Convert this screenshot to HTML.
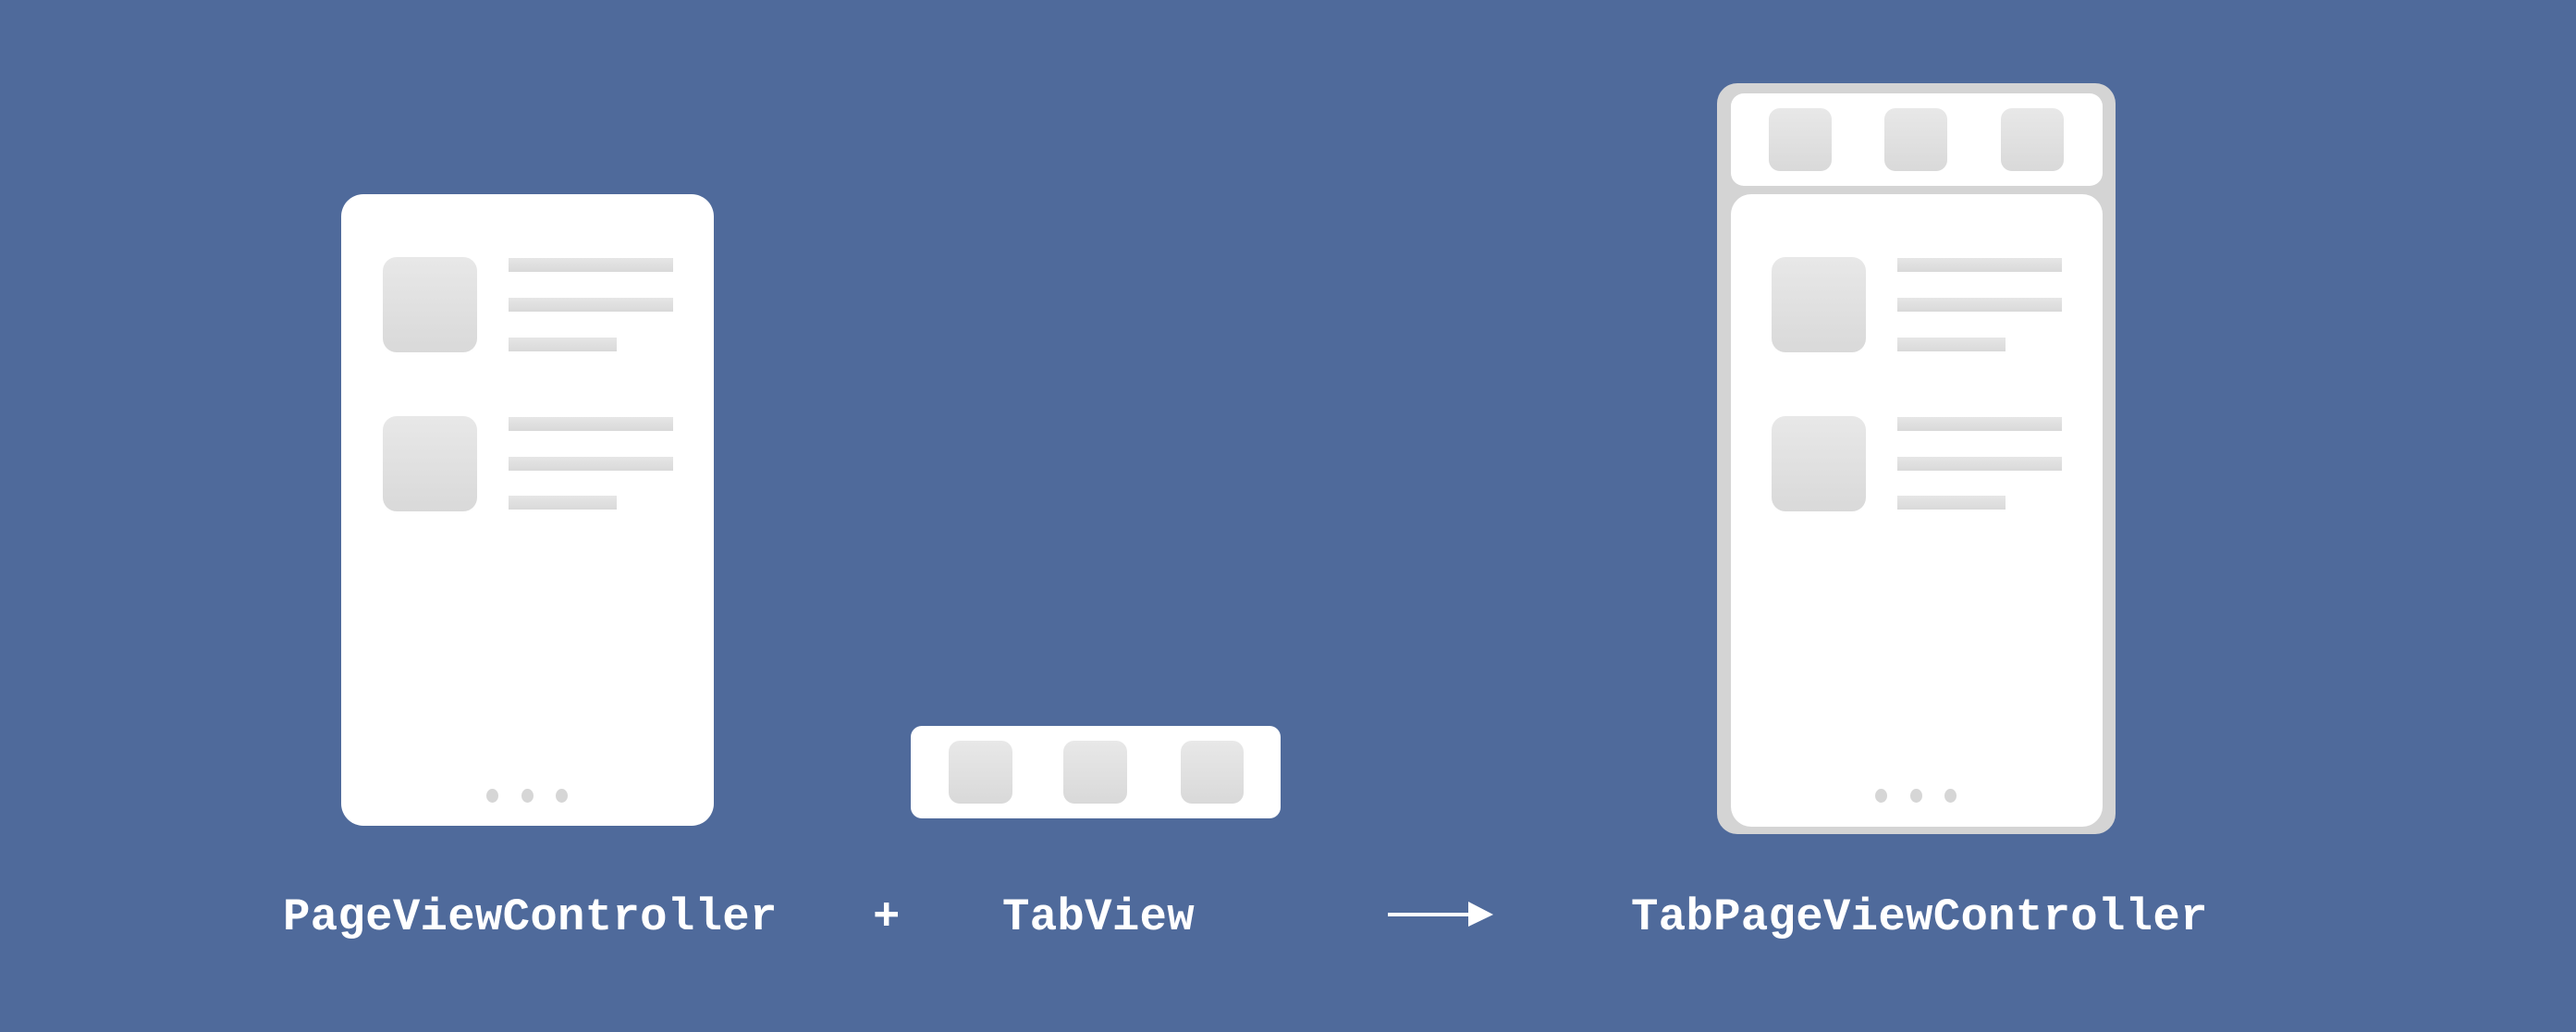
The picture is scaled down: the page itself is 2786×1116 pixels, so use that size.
<!DOCTYPE html>
<html><head><meta charset="utf-8"><style>
body{margin:0;width:2786px;height:1116px;background:#4f6a9b;position:relative;overflow:hidden;font-family:"Liberation Mono",monospace;}
div{position:absolute;box-sizing:border-box;}
.w{background:#fff;}
.sq{background:linear-gradient(#e8e8e8,#d9d9d9);border-radius:15px;}
.tsq{background:linear-gradient(#e8e8e8,#d9d9d9);border-radius:12px;}
.ln{background:linear-gradient(#e6e6e6,#d9d9d9);height:15px;}
.dot{width:13px;height:15px;border-radius:50%;background:#d6d6d6;}
.t{color:#fff;font-weight:bold;font-size:49px;letter-spacing:0.3px;line-height:1;white-space:nowrap;top:968px;}
</style></head><body>
<div class="w" style="left:369px;top:210px;width:403px;height:683px;border-radius:24px;"></div>
<div class="sq" style="left:414px;top:278px;width:102px;height:103px;"></div>
<div class="ln" style="left:550px;top:279px;width:178px;"></div>
<div class="ln" style="left:550px;top:322px;width:178px;"></div>
<div class="ln" style="left:550px;top:365px;width:117px;"></div>
<div class="sq" style="left:414px;top:450px;width:102px;height:103px;"></div>
<div class="ln" style="left:550px;top:451px;width:178px;"></div>
<div class="ln" style="left:550px;top:494px;width:178px;"></div>
<div class="ln" style="left:550px;top:536px;width:117px;"></div>
<div class="dot" style="left:526px;top:853px;"></div>
<div class="dot" style="left:564px;top:853px;"></div>
<div class="dot" style="left:601px;top:853px;"></div>
<div class="w" style="left:985px;top:785px;width:400px;height:100px;border-radius:12px;"></div>
<div class="tsq" style="left:1026px;top:801px;width:69px;height:68px;"></div>
<div class="tsq" style="left:1150px;top:801px;width:69px;height:68px;"></div>
<div class="tsq" style="left:1277px;top:801px;width:68px;height:68px;"></div>
<div style="left:1857px;top:90px;width:431px;height:812px;border-radius:22px;background:#d4d4d4;"></div>
<div class="w" style="left:1872px;top:101px;width:402px;height:100px;border-radius:14px;"></div>
<div class="tsq" style="left:1913px;top:117px;width:68px;height:68px;"></div>
<div class="tsq" style="left:2038px;top:117px;width:68px;height:68px;"></div>
<div class="tsq" style="left:2164px;top:117px;width:68px;height:68px;"></div>
<div class="w" style="left:1872px;top:210px;width:402px;height:684px;border-radius:22px;"></div>
<div class="sq" style="left:1916px;top:278px;width:102px;height:103px;"></div>
<div class="ln" style="left:2052px;top:279px;width:178px;"></div>
<div class="ln" style="left:2052px;top:322px;width:178px;"></div>
<div class="ln" style="left:2052px;top:365px;width:117px;"></div>
<div class="sq" style="left:1916px;top:450px;width:102px;height:103px;"></div>
<div class="ln" style="left:2052px;top:451px;width:178px;"></div>
<div class="ln" style="left:2052px;top:494px;width:178px;"></div>
<div class="ln" style="left:2052px;top:536px;width:117px;"></div>
<div class="dot" style="left:2028px;top:853px;"></div>
<div class="dot" style="left:2066px;top:853px;"></div>
<div class="dot" style="left:2103px;top:853px;"></div>
<div style="left:1501px;top:987px;width:92px;height:4px;background:#fff;"></div>
<svg style="position:absolute;left:1588px;top:975px" width="30" height="28"><polygon points="0,0 27,14 0,27" fill="#fff"/></svg>
<div class="t" style="left:306px;">PageViewController</div>
<div class="t" style="left:944px;">+</div>
<div class="t" style="left:1084px;">TabView</div>
<div class="t" style="left:1764px;">TabPageViewController</div>
</body></html>
